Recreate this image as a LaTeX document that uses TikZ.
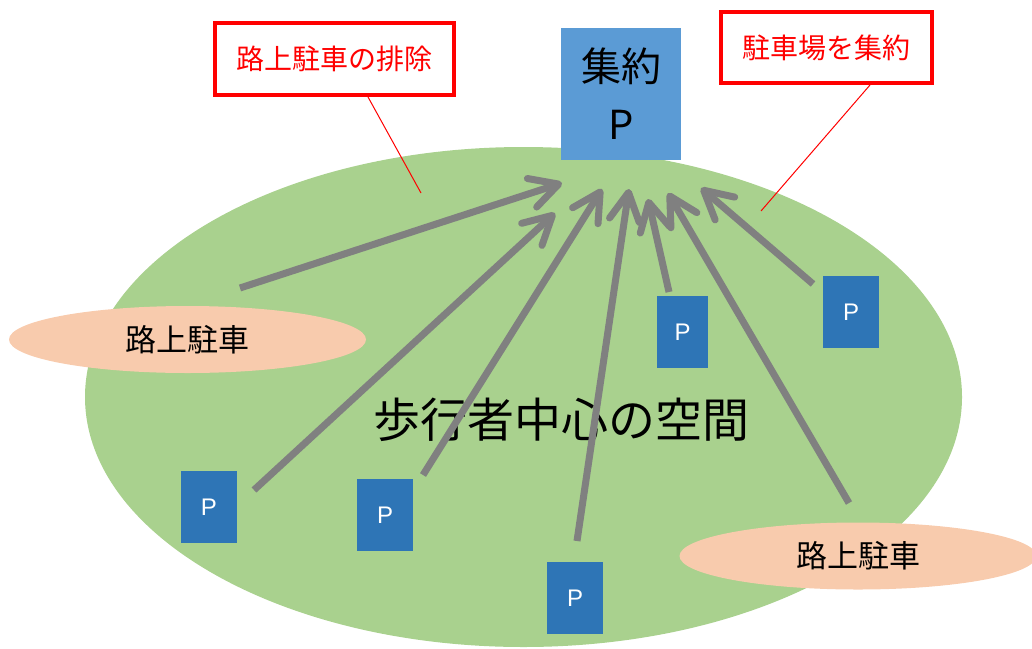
\documentclass[tikz,border=0pt]{standalone}
\usepackage{fontspec}
\newfontfamily\jp{Noto Sans CJK JP}
\newfontfamily\lsans{Liberation Sans}
\usetikzlibrary{arrows.meta,shapes.geometric}
\definecolor{areagreen}{HTML}{A9D18E}
\definecolor{peach}{HTML}{F8CBAD}
\definecolor{topblue}{HTML}{5B9BD5}
\definecolor{pblue}{HTML}{2E75B6}
\definecolor{arrgray}{HTML}{808080}
\tikzset{
  area/.style={ellipse, fill=areagreen, draw=none, minimum width=877pt, minimum height=500pt, inner sep=0pt},
  street/.style={ellipse, fill=peach, draw=none, minimum width=357pt, minimum height=67pt, inner sep=0pt, font=\jp\fontsize{31}{34}\selectfont},
  pbox/.style={rectangle, fill=pblue, draw=none, minimum width=56pt, minimum height=72pt, inner sep=0pt, text=white, font=\lsans\fontsize{24}{26}\selectfont},
  topbox/.style={rectangle, fill=topblue, draw=none, minimum width=120pt, minimum height=132pt, inner sep=0pt, align=center, font=\jp\fontsize{40}{58}\selectfont},
  notebox/.style={rectangle, fill=white, draw=red, line width=4pt, inner sep=0pt, text=red, font=\jp\fontsize{28}{30}\selectfont},
  callout/.style={draw=red, line width=1pt},
  arr/.style={draw=arrgray, line width=7pt, -{Straight Barb[length=28pt, width=30pt, round]}},
}
\begin{document}
\begin{tikzpicture}[x=1pt, y=-1pt]
\useasboundingbox (0,0) rectangle (1032,648);
% main area
\node[area] (area) at (523.5,397) {};
\node[street] (st1) at (187.5,339.5) {路上駐車};
\node[street] (st2) at (858,556) {路上駐車};
\node[font=\jp\fontsize{47}{50}\selectfont] (label) at (561.5,420) {歩行者中心の空間};
% parking boxes
\node[pbox] (p1) at (209,507) {P};
\node[pbox] (p2) at (385,515) {P};
\node[pbox] (p3) at (575,598) {P};
\node[pbox, minimum width=51pt] (p4) at (682.5,332) {P};
\node[pbox] (p5) at (851,312) {P};
% top box
\node[topbox] (top) at (621,94) {集約\\P};
% notes
\node[notebox, minimum width=239pt, minimum height=72pt] (n1) at (334.5,59) {路上駐車の排除};
\node[notebox, minimum width=211pt, minimum height=71pt] (n2) at (826.5,47.5) {駐車場を集約};
\coordinate (c1) at (421,193);
\coordinate (c2) at (761,211);
\draw[callout] ([xshift=33.5pt]n1.south) -- (c1);
\draw[callout] ([xshift=43.5pt]n2.south) -- (c2);
% arrows
\coordinate (s1) at (240,288); \coordinate (t1) at (562,183);
\coordinate (s2) at (254,490); \coordinate (t2) at (555,213);
\coordinate (s3) at (423,475); \coordinate (t3) at (602,189);
\coordinate (s4) at (577,541); \coordinate (t4) at (629,189);
\coordinate (s5) at (669,292); \coordinate (t5) at (648,199);
\coordinate (s6) at (849,503); \coordinate (t6) at (668,193);
\coordinate (s7) at (813,284); \coordinate (t7) at (701,188);
\foreach \i in {1,...,7} { \draw[arr] (s\i) -- (t\i); }
\end{tikzpicture}
\end{document}
